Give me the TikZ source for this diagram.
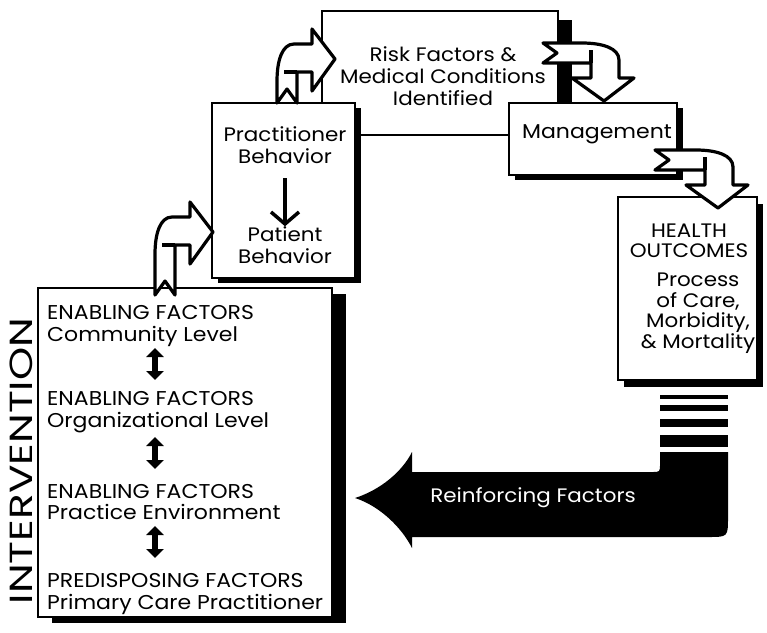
\documentclass[tikz,border=0pt]{standalone}
\usepackage{fontspec}
\setmainfont{Poppins}[FakeStretch=1.1]
\usetikzlibrary{arrows.meta,shadows,calc}
\newcommand\bentarr[4]{%
\begin{scope}[shift={(#1,#2)},rotate=#3]
\filldraw[fill=white,draw=black,line width=3.2pt,line join=round]
 (-10,0) -- (-10,{-#4+9}) .. controls (-10,{-#4-11}) and (-5,{-#4-28}) .. (7,{-#4-28})
 -- (25,{-#4-28}) -- (25,{-#4-43}) -- (48,{-#4-13}) -- (25,{-#4+19}) -- (25,{-#4}) -- (10,{-#4}) -- (10,0) -- (0,-14) -- cycle;
\draw[line width=3.2pt] (-3,{-#4}) -- (10,{-#4});
\end{scope}}
\begin{document}
\begin{tikzpicture}[x=1pt,y=-1pt,
  box/.style={draw=black,line width=1.3pt,fill=white,inner sep=0pt},
  shad/.style 2 args={drop shadow={shadow xshift=#1pt,shadow yshift=-#2pt,opacity=1,fill=black}},
  txt/.style={inner sep=0pt,align=center},
  dbl/.style={line width=6pt,{Triangle[length=9pt,width=17pt]}-{Triangle[length=9pt,width=17pt]}},
  dn/.style={line width=3.5pt,-{Straight Barb[length=12pt,width=28pt]}}]
\useasboundingbox (0,0) rectangle (767,632);
% boxes
\node[box,minimum width=236pt,minimum height=124pt] (C) at (440,73) {};
\fill (558,20) rectangle (572,103);
\node[box,shad={14}{6},minimum width=294pt,minimum height=329pt] (A) at (185,452.5) {};
\node[box,shad={6}{5},minimum width=143pt,minimum height=175pt] (B) at (283.5,190.5) {};
\node[box,shad={6}{5},minimum width=168pt,minimum height=72pt] (M) at (593,139) {};
\node[box,shad={6}{7},minimum width=139pt,minimum height=183pt] (H) at (687.5,288.5) {};
% texts
\node[txt,font=\fontsize{19.5}{22}\selectfont] (ct) at (443,76) {Risk Factors \&\\Medical Conditions\\Identified};
\node[txt,font=\fontsize{19.5}{22}\selectfont] (pb) at (285,145) {Practitioner\\Behavior};
\node[txt,font=\fontsize{19.5}{22}\selectfont] (pt) at (285,245) {Patient\\Behavior};
\draw[dn] (pb.south |- 0,178) -- (pt.north);
\node[txt,font=\fontsize{20}{22}\selectfont] (mt) at (597,134) {Management};
\node[txt,font=\fontsize{19.5}{20.5}\selectfont] (ht) at (689,241) {HEALTH\\OUTCOMES};
\node[txt,font=\fontsize{19.5}{20.5}\selectfont] (hp) at (698,313) {Process\\of Care,\\Morbidity,\\\& Mortality};
\begin{scope}[txt/.append style={align=left,anchor=west},font=\fontsize{20}{21.5}\selectfont]
\node[txt] (e1) at (47,326) {ENABLING FACTORS\\Community Level};
\node[txt] (e2) at (47,412) {ENABLING FACTORS\\Organizational Level};
\node[txt] (e3) at (47,502) {ENABLING FACTORS\\Practice Environment};
\node[txt] (e4) at (47,594) {PREDISPOSING FACTORS\\Primary Care Practitioner};
\end{scope}
\coordinate (ax) at (155,0);
\draw[dbl] (ax |- 0,348) -- (ax |- 0,380);
\draw[dbl] (ax |- 0,437) -- (ax |- 0,469);
\draw[dbl] (ax |- 0,526) -- (ax |- 0,558);
\node[txt,rotate=90,font=\fontsize{32}{32}\selectfont] (iv) at (21,461) {\scalebox{1.2}[1]{INTERVENTION}};
% bent arrows
\bentarr{165}{295}{0}{50}
\bentarr{287}{103}{0}{31}
\bentarr{543}{53}{-90}{48}
\bentarr{655}{160}{-90}{50}
% reinforcing arrow
\fill (660,395) rectangle (728,399);
\fill (660,405) rectangle (728,411);
\fill (660,419) rectangle (728,427);
\fill (660,435) rectangle (728,447);
\fill (355,498) .. controls (380,490) and (402,472) .. (412,452) -- (412,472) -- (652,472)
  .. controls (660,472) .. (660,464) -- (660,452) -- (728,452) -- (728,517)
  .. controls (728,537) .. (708,537) -- (412,537) -- (412,548)
  .. controls (402,528) and (380,506) .. (355,498) -- cycle;
\node[txt,text=white,font=\fontsize{19.5}{20}\selectfont] (rf) at (533,498) {Reinforcing Factors};
\end{tikzpicture}
\end{document}
